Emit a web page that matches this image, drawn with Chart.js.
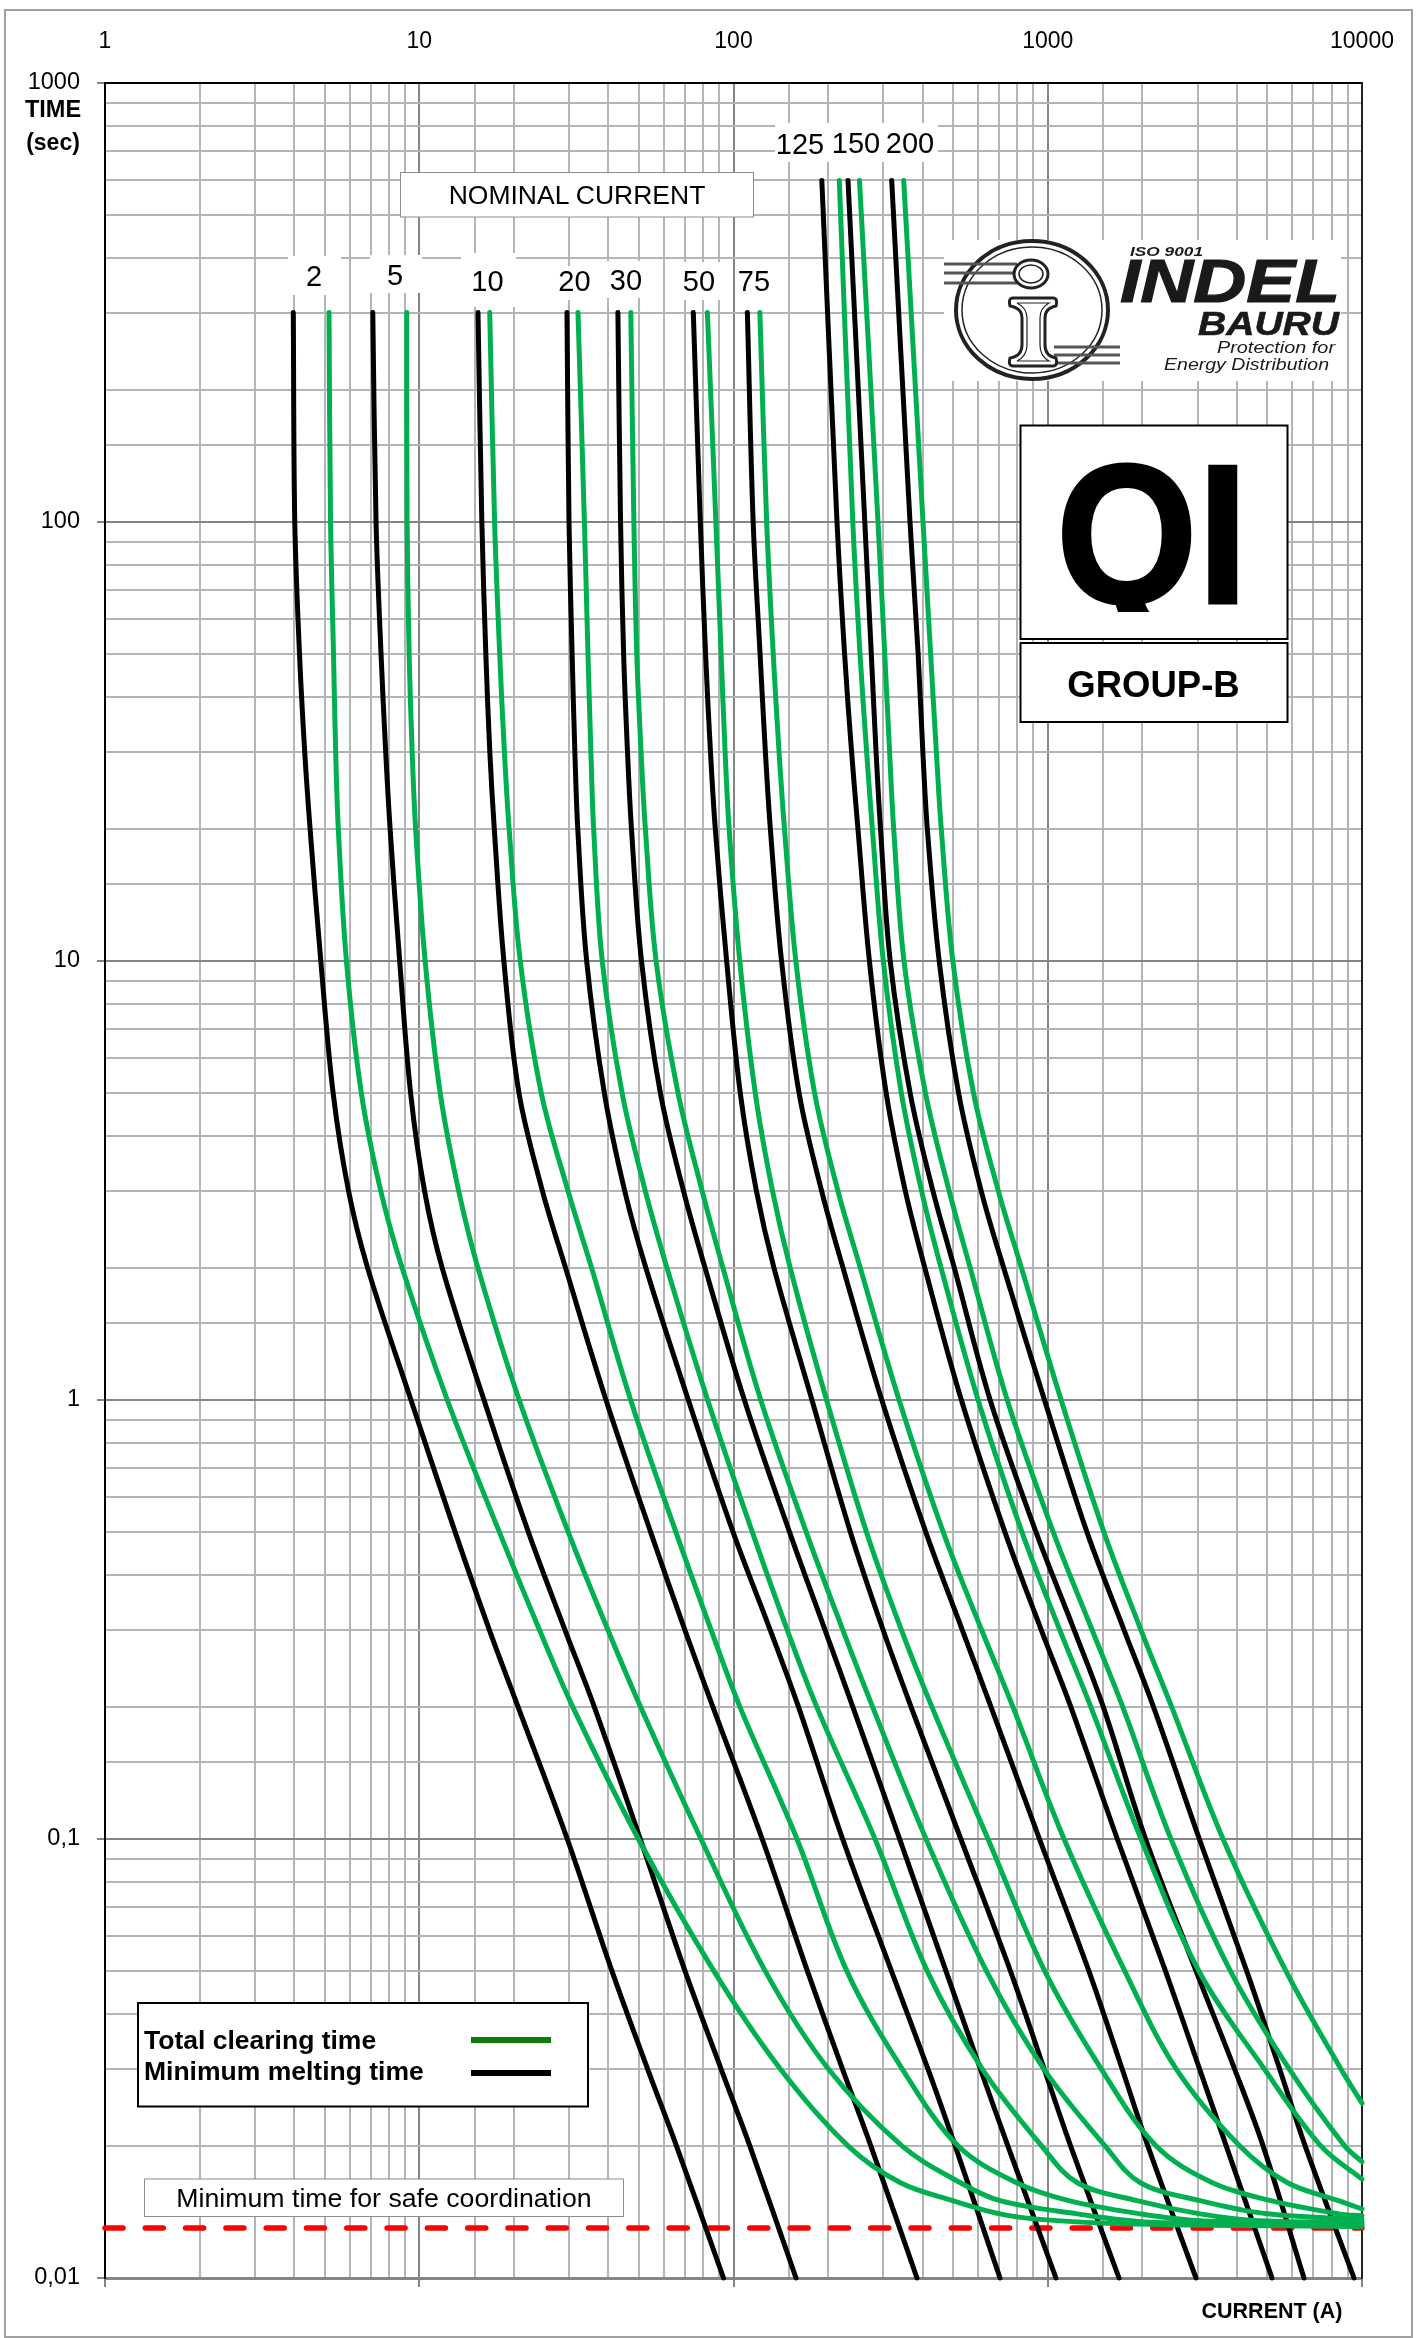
<!DOCTYPE html>
<html>
<head>
<meta charset="utf-8">
<title>QI Group-B</title>
<script src="https://cdn.jsdelivr.net/npm/chart.js@4"></script>
<style>
    html, body { margin: 0; padding: 0; background: #fff; }
    #page { position: relative; width: 1421px; height: 2338px; overflow: hidden; }
    #chart { position: absolute; left: 0; top: 0; }
    #notes { position: absolute; left: 0; top: 0; font-family: "Liberation Sans", Arial, sans-serif; }
</style>
</head>
<body>
<div id="page">
    <canvas id="chart" width="1421" height="2338"></canvas>
    <svg id="notes" width="1421" height="2338" viewBox="0 0 1421 2338">
        <defs>
            <clipPath id="qiClip"><rect x="1022" y="427" width="264" height="185"/></clipPath>
        </defs>

        <!-- outer frame -->
        <rect x="5" y="10" width="1407" height="2327" fill="none" stroke="#a0a0a0" stroke-width="2"/>

        <!-- axis titles -->
        <text x="53" y="117" font-size="23.5" font-weight="bold" text-anchor="middle">TIME</text>
        <text x="53" y="150" font-size="23" font-weight="bold" text-anchor="middle">(sec)</text>
        <text x="1272" y="2318" font-size="21.5" font-weight="bold" text-anchor="middle">CURRENT (A)</text>

        <!-- nominal current -->
        <rect x="400.5" y="172.5" width="353" height="44.5" fill="#fff" stroke="#8c8c8c"/>
        <text x="577" y="204" font-size="26.5" text-anchor="middle">NOMINAL CURRENT</text>

        <rect x="288" y="256" width="53" height="39" fill="#fff"/>
        <rect x="370" y="255" width="52" height="38" fill="#fff"/>
        <rect x="461" y="253" width="55" height="54" fill="#fff"/>
        <rect x="556" y="266" width="36" height="34" fill="#fff"/>
        <rect x="607" y="261" width="33" height="37" fill="#fff"/>
        <rect x="678" y="262" width="52" height="38" fill="#fff"/>
        <rect x="737" y="262" width="38" height="38" fill="#fff"/>
        <rect x="775" y="123" width="163" height="39" fill="#fff"/>
        <g font-size="29" text-anchor="middle">
            <text x="314" y="286">2</text>
            <text x="395" y="285">5</text>
            <text x="487.5" y="291">10</text>
            <text x="574.5" y="291">20</text>
            <text x="626" y="290">30</text>
            <text x="699" y="291">50</text>
            <text x="754" y="291">75</text>
            <text x="800" y="154">125</text>
            <text x="856" y="153">150</text>
            <text x="910" y="153">200</text>
        </g>

        <!-- logo -->
        <rect x="944" y="240" width="397" height="141" fill="#fff"/>
        <g fill="none" stroke="#222">
            <ellipse cx="1032" cy="310" rx="76" ry="69" stroke-width="4"/>
            <ellipse cx="1032" cy="310" rx="70" ry="63" stroke-width="1.5"/>
            <path d="M944 264H1017M944 273H1017M944 283H1017M1054 347H1120M1054 355H1120M1054 363H1120" stroke-width="3" stroke="#555"/>
            <ellipse cx="1031" cy="274" rx="17" ry="14" stroke-width="3" fill="#fff"/>
            <ellipse cx="1031" cy="274" rx="12" ry="9" stroke-width="1.5"/>
            <path d="M1013 298H1053Q1058 298 1056 306Q1045 308 1045 318V345Q1045 356 1056 358Q1058 366 1053 366H1013Q1008 366 1010 358Q1022 356 1022 345V318Q1022 308 1010 306Q1008 298 1013 298Z" stroke-width="3" fill="#fff"/>
            <path d="M1017 303H1049Q1040 308 1040 318V345Q1040 356 1049 361H1017Q1027 356 1027 345V318Q1027 308 1017 303Z" stroke-width="1.2"/>
        </g>
        <g font-style="italic" fill="#1a1a1a">
            <text x="1130" y="256" font-size="13.5" font-weight="bold" textLength="73" lengthAdjust="spacingAndGlyphs">ISO 9001</text>
            <text x="1120" y="301.5" font-size="62" font-weight="bold" stroke="#1a1a1a" stroke-width="1.2" textLength="220" lengthAdjust="spacingAndGlyphs">INDEL</text>
            <text x="1198" y="334.5" font-size="33" font-weight="bold" stroke="#1a1a1a" stroke-width="0.6" textLength="141" lengthAdjust="spacingAndGlyphs">BAURU</text>
            <text x="1217" y="353" font-size="17" textLength="118" lengthAdjust="spacingAndGlyphs">Protection for</text>
            <text x="1164" y="370" font-size="17" textLength="165" lengthAdjust="spacingAndGlyphs">Energy Distribution</text>
        </g>

        <!-- fuse type -->
        <rect x="1020.5" y="425.5" width="267" height="213.5" fill="#fff" stroke="#000" stroke-width="2"/>
        <text x="1056" y="602.5" font-size="199" font-weight="bold" stroke="#000" stroke-width="3" textLength="192" lengthAdjust="spacingAndGlyphs" clip-path="url(#qiClip)">QI</text>
        <rect x="1020.5" y="643" width="267" height="79" fill="#fff" stroke="#000" stroke-width="2"/>
        <text x="1153.5" y="696.5" font-size="36.5" font-weight="bold" text-anchor="middle">GROUP-B</text>

        <!-- legend -->
        <rect x="138" y="2003" width="450" height="103.5" fill="#fff" stroke="#000" stroke-width="2"/>
        <text x="144" y="2049" font-size="26.5" font-weight="bold">Total clearing time</text>
        <text x="144" y="2080" font-size="26.5" font-weight="bold">Minimum melting time</text>
        <rect x="471" y="2037" width="80" height="6" fill="#0a7d0a"/>
        <rect x="471" y="2070" width="80" height="6" fill="#000"/>

        <rect x="144.5" y="2179" width="479" height="37.5" fill="#fff" stroke="#8c8c8c"/>
        <text x="384" y="2207" font-size="26.7" text-anchor="middle">Minimum time for safe coordination</text>
    </svg>
</div>

<script>
    // Eixos
    const xTickValues = [1, 10, 100, 1000, 10000];
    const xTickLabels = ['1', '10', '100', '1000', '10000'];
    const yTickValues = [0.01, 0.1, 1, 10, 100, 1000];
    const yTickLabels = ['0,01', '0,1', '1', '10', '100', '1000'];

    // Tempos (s) em que cada curva foi lida
    const timesBlack = [300, 100, 50, 30, 20, 10, 5, 3, 2, 1, 0.5, 0.3, 0.2, 0.1, 0.05, 0.03, 0.02, 0.01];
    const timesBlackTall = [600, 100, 50, 30, 20, 10, 5, 3, 2, 1, 0.5, 0.3, 0.2, 0.1, 0.05, 0.03, 0.02, 0.01];
    const timesGreen = [300, 100, 50, 30, 20, 10, 5, 3, 2, 1, 0.5, 0.3, 0.2, 0.1, 0.05, 0.03, 0.02];
    const timesGreenTall = [600, 100, 50, 30, 20, 10, 5, 3, 2, 1, 0.5, 0.3, 0.2, 0.1, 0.05, 0.03, 0.02];

    // Minimum melting time: corrente (A)
    const melt2 = [3.974, 4.017, 4.159, 4.32, 4.494, 4.861, 5.321, 5.953, 6.849, 9.411, 13.01, 16.7, 20.63, 29.58, 41.05, 53.23, 65.83, 92.93];
    const melt5 = [7.115, 7.286, 7.558, 7.82, 8.077, 8.664, 9.387, 10.39, 11.83, 16.07, 22.25, 29.06, 36.06, 50.5, 70.13, 91.2, 112.7, 158.1];
    const melt10 = [15.38, 15.82, 16.29, 16.77, 17.33, 18.59, 20.77, 24.64, 29.21, 39.29, 54.49, 69.96, 85.97, 123.4, 171.9, 222, 273.5, 383.6];
    const melt20 = [29.52, 29.96, 30.65, 31.27, 31.95, 34.1, 38.82, 45.03, 52.6, 71.82, 99.69, 130.7, 161, 222.5, 318.2, 415.3, 507.4, 704.8];
    const melt30 = [42.87, 43.71, 44.71, 45.99, 47.35, 50.96, 58.53, 69.29, 81.18, 108.3, 150.8, 195.3, 239.7, 337.8, 474.5, 609.6, 746.5, 1062];
    const melt50 = [74.49, 78.42, 81.5, 84.46, 87.51, 95.09, 105.1, 118.2, 134.5, 177.7, 235.5, 298.9, 367.3, 529, 760.9, 973.2, 1182, 1686];
    const melt75 = [110.7, 115.5, 121.5, 126.3, 131, 142.2, 161.7, 190.6, 223.1, 296.4, 409.2, 533.9, 659.7, 941.1, 1352, 1723, 2082, 2963];
    const melt125 = [191, 213.5, 225.7, 237.5, 248.9, 270.7, 306.1, 351.9, 406.3, 531.1, 730.8, 952.6, 1184, 1665, 2370, 3038, 3697, 5171];
    const melt150 = [231.4, 261.7, 274.5, 284.2, 293.7, 315.3, 364.9, 430.9, 504.3, 655.7, 917.8, 1212, 1502, 2048, 2966, 3927, 4844, 6538];
    const melt200 = [318.7, 364.5, 386.9, 400.4, 413.8, 451.4, 520.4, 613.6, 723.9, 976.4, 1333, 1747, 2170, 3037, 4298, 5463, 6592, 9431];

    // Total clearing time: corrente (A)
    const clear2 = [5.162, 5.221, 5.335, 5.42, 5.526, 5.865, 6.543, 7.537, 8.819, 12.28, 17.99, 24.1, 30.8, 49.81, 86.65, 140.6, 231.4, 338.7, 499.4, 704.8, 944.8, 1698, 10000];
    const clear5 = [9.121, 9.147, 9.286, 9.493, 9.738, 10.44, 11.66, 13.34, 15.37, 20.8, 29.8, 39.78, 50.59, 78.81, 126.2, 199.9, 343.7, 525.7, 704.8, 1239, 2115, 10000];
    const clear10 = [16.76, 17.37, 18.03, 18.66, 19.32, 20.96, 24.46, 29.72, 35.36, 47.06, 65.58, 84.77, 104.8, 159.2, 229.5, 343.7, 518.1, 792.4, 1168, 1966, 3051, 10000];
    const clear20 = [32, 33.54, 34.43, 35.17, 35.89, 38.22, 44.22, 52.37, 61.42, 82.73, 114.8, 148.1, 184, 282, 413.6, 617.7, 955.9, 1239, 1923, 3051, 4736, 10000];
    const clear30 = [47.12, 48.2, 49.23, 50.8, 52.43, 56.73, 66.64, 79.41, 92.56, 122.1, 170.4, 222.5, 277.1, 409.8, 638.5, 970, 1521, 1966, 3051, 4985, 10000];
    const clear50 = [82.59, 87.89, 91.34, 94.02, 96.85, 104.7, 117.3, 133, 151.5, 197.8, 265, 341.9, 427.9, 645.4, 978.6, 1477, 2210, 3332, 5134, 8424, 10000];
    const clear75 = [121.3, 127.5, 133.8, 139.6, 145.3, 157.9, 181.2, 214.8, 253.2, 336.4, 464.9, 615.1, 774.7, 1127, 1759, 2559, 4079, 5772, 8424, 10000];
    const clear125 = [217.1, 239.7, 252.7, 265.2, 276.6, 299.7, 342.1, 396.4, 457.6, 600.2, 827.8, 1091, 1371, 1981, 3028, 4877, 7394, 10000];
    const clear150 = [251.7, 288.3, 302.9, 313.8, 323.4, 348.8, 408.3, 485.2, 566.6, 743.2, 1041, 1382, 1732, 2467, 3815, 5857, 8803, 10000];
    const clear200 = [348, 400.9, 424, 442, 458.3, 498.9, 580.7, 695.7, 824.6, 1103, 1509, 1977, 2479, 3612, 5730, 8549, 10000];

    // Trecho final das curvas verdes (s)
    const tail2 = [0.0165, 0.015, 0.014, 0.0136, 0.0133, 0.0131];
    const tail5 = [0.0165, 0.015, 0.014, 0.0134, 0.0132];
    const tail10 = [0.0165, 0.015, 0.014, 0.0135, 0.0133];
    const tail20 = [0.0165, 0.015, 0.014, 0.0135, 0.0134];
    const tail30 = [0.0165, 0.015, 0.014, 0.0136];
    const tail50 = [0.0165, 0.015, 0.014, 0.01385];
    const tail75 = [0.0165, 0.015, 0.01436];
    const tail125 = [0.0168];
    const tail150 = [0.0184];
    const tail200 = [0.025];

    // Tempo mínimo para coordenação segura
    const safeCurrent = [1, 10000];
    const safeTime = [0.013, 0.013];

    function toPoints(current, time) {
        return current.map(function (c, i) { return { x: c, y: time[i] }; });
    }

    function curve(current, time, color, width) {
        return {
            data: toPoints(current, time),
            borderColor: color,
            borderWidth: width,
            borderCapStyle: 'round',
            borderJoinStyle: 'round',
            pointRadius: 0,
            tension: 0.35,
            clip: false
        };
    }

    function clearing(current, time, tail) {
        return curve(current, time.concat(tail), '#00b050', 5);
    }

    function melting(current, time) {
        return curve(current, time, '#000000', 5);
    }

    function isListed(list, v) {
        return list.some(function (t) { return Math.abs(t - v) < t * 0.001; });
    }

    function labelFrom(values, labels) {
        return function (v) {
            const i = values.findIndex(function (t) { return Math.abs(t - v) < t * 0.001; });
            return i >= 0 ? labels[i] : '';
        };
    }

    function gridLine(values, minorColor) {
        return {
            color: function (c) { return c.tick && isListed(values, c.tick.value) ? '#858585' : minorColor; },
            lineWidth: 2,
            tickColor: function (c) { return c.tick && isListed(values, c.tick.value) ? '#858585' : 'rgba(0,0,0,0)'; }
        };
    }

    // Tira a folga que o rótulo "10000" reservaria à direita do gráfico
    function fixHeight(h) {
        return function (s) {
            s.height = h;
            s.paddingLeft = 0;
            s.paddingRight = 0;
        };
    }

    Chart.defaults.font.family = '"Liberation Sans", Arial, sans-serif';
    Chart.defaults.color = '#000';

    // A primeira curva da lista fica por cima
    const datasets = [
        clearing(clear200, timesGreenTall.slice(0, 16), tail200),
        clearing(clear150, timesGreenTall, tail150),
        clearing(clear125, timesGreenTall, tail125),
        clearing(clear75, timesGreen, tail75),
        clearing(clear50, timesGreen, tail50),
        clearing(clear30, timesGreen, tail30),
        clearing(clear20, timesGreen, tail20),
        clearing(clear10, timesGreen, tail10),
        clearing(clear5, timesGreen, tail5),
        clearing(clear2, timesGreen, tail2),
        melting(melt200, timesBlackTall),
        melting(melt150, timesBlackTall),
        melting(melt125, timesBlackTall),
        melting(melt75, timesBlack),
        melting(melt50, timesBlack),
        melting(melt30, timesBlack),
        melting(melt20, timesBlack),
        melting(melt10, timesBlack),
        melting(melt5, timesBlack),
        melting(melt2, timesBlack),
        {
            data: toPoints(safeCurrent, safeTime),
            borderColor: '#ff0000',
            borderWidth: 5.5,
            borderDash: [18, 22.3],
            borderCapStyle: 'round',
            pointRadius: 0,
            clip: false
        }
    ];

    new Chart(document.getElementById('chart'), {
        type: 'line',
        data: { datasets: datasets },
        options: {
            responsive: false,
            animation: false,
            devicePixelRatio: 1,
            layout: { padding: 0 },
            plugins: { legend: { display: false }, tooltip: { enabled: false } },
            scales: {
                x: {
                    type: 'logarithmic',
                    position: 'top',
                    min: 1,
                    max: 10000,
                    afterFit: fixHeight(83),
                    grid: Object.assign({ drawTicks: false }, gridLine(xTickValues, '#b4b4b4')),
                    border: { color: '#000', width: 2 },
                    ticks: { autoSkip: false, maxRotation: 0, padding: 28, font: { size: 23 }, callback: labelFrom(xTickValues, xTickLabels) }
                },
                xBottom: {
                    type: 'logarithmic',
                    position: 'bottom',
                    min: 1,
                    max: 10000,
                    afterFit: fixHeight(60),
                    grid: Object.assign({ drawOnChartArea: false, tickLength: 9 }, gridLine(xTickValues, '#b4b4b4')),
                    border: { color: '#858585', width: 3 },
                    ticks: { autoSkip: false, maxRotation: 0, callback: function () { return ''; } }
                },
                y: {
                    type: 'logarithmic',
                    position: 'left',
                    min: 0.01,
                    max: 1000,
                    afterFit: function (s) { s.width = 105; },
                    grid: Object.assign({ tickLength: 8 }, gridLine(yTickValues, '#b4b4b4')),
                    border: { color: '#000', width: 2 },
                    ticks: { autoSkip: false, padding: 17, font: { size: 23.5 }, callback: labelFrom(yTickValues, yTickLabels) }
                },
                yRight: {
                    type: 'logarithmic',
                    position: 'right',
                    min: 0.01,
                    max: 1000,
                    afterFit: function (s) { s.width = 59; },
                    grid: { display: false },
                    border: { color: '#222', width: 2 },
                    ticks: { display: false }
                }
            }
        }
    });
</script>
</body>
</html>
